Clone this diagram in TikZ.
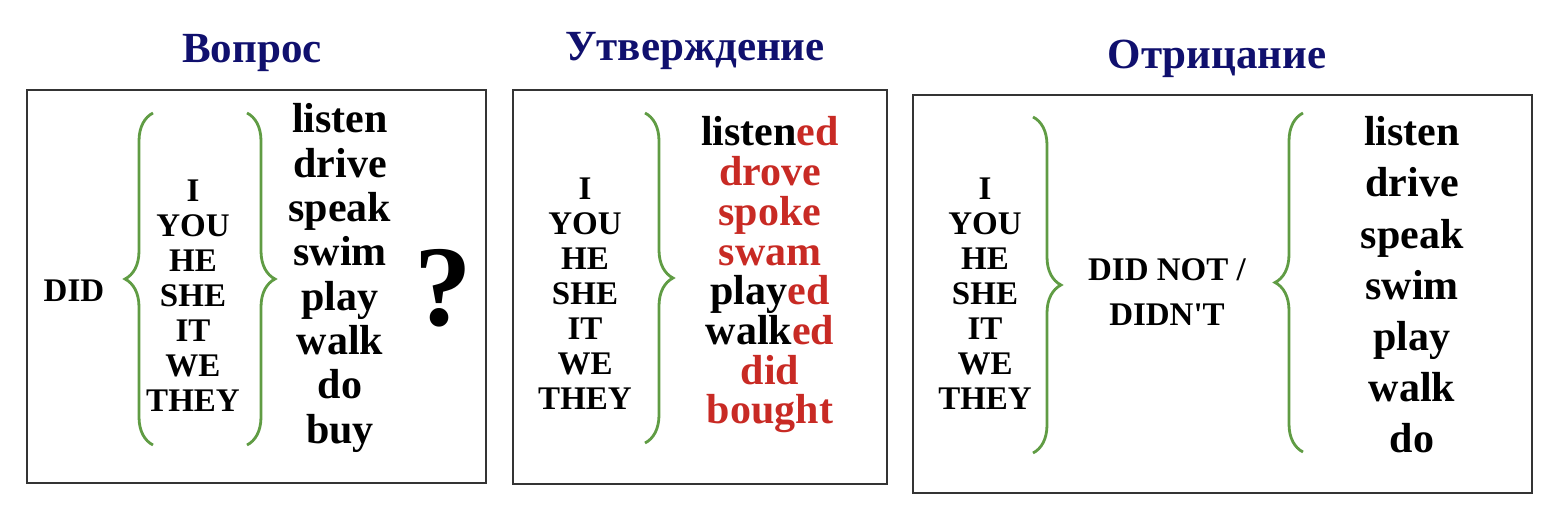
\documentclass[tikz,border=0pt]{standalone}
\usepackage{fontspec}
\setmainfont{Liberation Serif}
\usetikzlibrary{decorations.pathreplacing}

\definecolor{titleblue}{RGB}{16,16,110}
\definecolor{bracegreen}{RGB}{96,156,68}
\definecolor{endred}{RGB}{200,42,36}
\definecolor{framegray}{RGB}{52,52,52}
\newcommand{\redpart}[1]{\textcolor{endred}{#1}}
\font\quotefont="Liberation Serif/B" at 33pt

\begin{document}
\begin{tikzpicture}[x=1pt, y=-1pt,
        frame/.style={draw=framegray, line width=2pt},
        title/.style={text=titleblue, anchor=base, inner sep=0pt, font=\bfseries\fontsize{43}{43}\selectfont},
        pron/.style={align=center, inner sep=0pt, font=\bfseries\fontsize{33}{35}\selectfont},
        verbs/.style={align=center, inner sep=0pt, font=\bfseries\fontsize{42}{44.3}\selectfont},
        curly/.style={draw=bracegreen, line width=2.8pt, decorate, decoration={brace, amplitude=28pt}}]
            \useasboundingbox (0,0) rectangle (1558,530);

            \node[title] (qtitle) at (252,62) {Вопрос};
            \node[title] (ptitle) at (695,60) {Утверждение};
            \node[title] (ntitle) at (1217,68) {Отрицание};

            \draw[frame] (27,90) rectangle (486,483);
            \draw[frame] (513,90) rectangle (887,484);
            \draw[frame] (913,95) rectangle (1532,493);

            % question
            \node[pron] (qdid) at (74,291) {DID};
            \node[pron] (qpron) at (193,296) {I\\YOU\\HE\\SHE\\IT\\WE\\THEY};
            \draw[curly] (153,445) -- (153,113);
            \draw[curly] (247,113) -- (247,445);
            \node[verbs] (qverb) at (340,278) {listen\\drive\\speak\\swim\\play\\walk\\do\\buy};
            \node[inner sep=0pt, font=\bfseries\fontsize{115}{115}\selectfont] (qmark) at (443,288) {?};

            % positive
            \node[pron] (ppron) at (585,294) {I\\YOU\\HE\\SHE\\IT\\WE\\THEY};
            \draw[curly] (645,113) -- (645,443);
            \node[verbs, font=\bfseries\fontsize{42}{39.7}\selectfont] (pverb) at (770,275)
                {listen\redpart{ed}\\\redpart{drove}\\\redpart{spoke}\\\redpart{swam}\\play\redpart{ed}\\walk\redpart{ed}\\\redpart{did}\\\redpart{bought}};

            % negative
            \node[pron] (npron) at (985,294) {I\\YOU\\HE\\SHE\\IT\\WE\\THEY};
            \draw[curly] (1033,117) -- (1033,453);
            \node[pron, font=\bfseries\fontsize{33}{45}\selectfont] (ndid) at (1167,292) {DID NOT /\\DIDN{\quotefont '}T};
            \draw[curly] (1303,452) -- (1303,113);
            \node[verbs, font=\bfseries\fontsize{42}{51.2}\selectfont] (nverb) at (1412,285) {listen\\drive\\speak\\swim\\play\\walk\\do};
        \end{tikzpicture}
\end{document}
